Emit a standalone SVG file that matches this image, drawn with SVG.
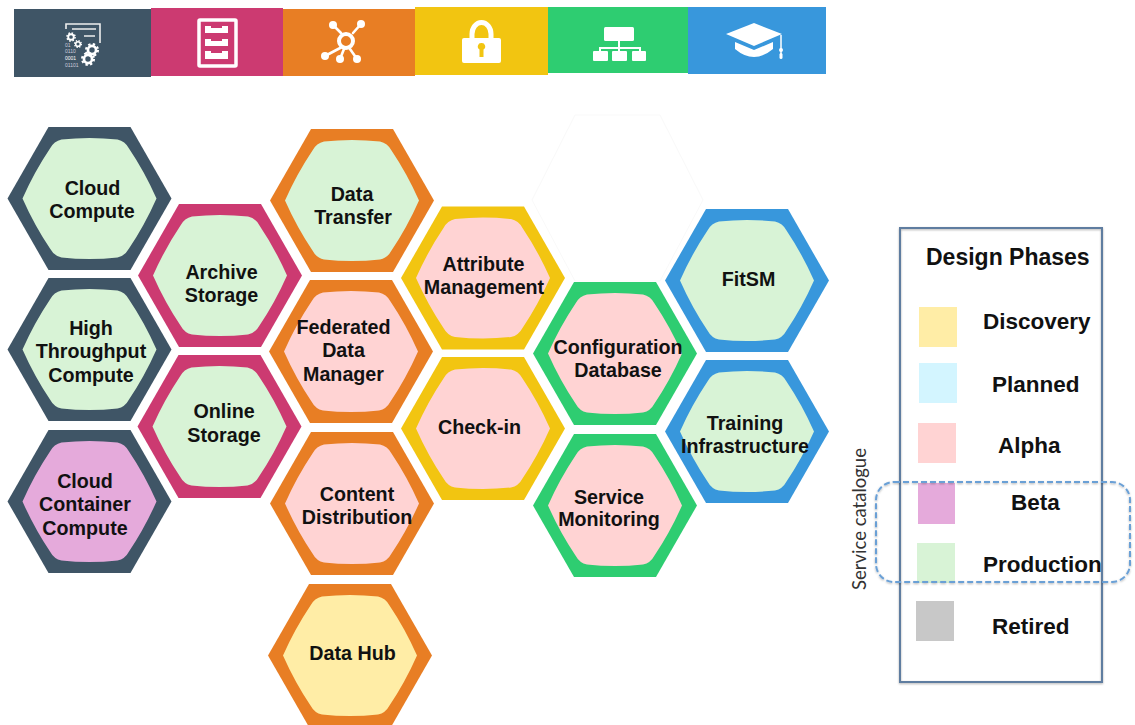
<svg xmlns="http://www.w3.org/2000/svg" xmlns:xlink="http://www.w3.org/1999/xlink" width="1135" height="725" viewBox="0 0 1135 725">
<style>
text{font-family:"Liberation Sans",Arial,sans-serif;font-weight:bold;fill:#111;text-anchor:middle}
.n{font-size:19.7px}
.l{font-size:22.5px;text-anchor:start}
.dark{fill:#3f5566}.pink{fill:#cc3a71}.orange{fill:#e87e24}.yellow{fill:#f2c511}.green{fill:#2ecd71}.blue{fill:#3897dc}
.prod{fill:#d8f3d6}.alpha{fill:#ffd3d3}.beta{fill:#e5aadb}.disc{fill:#ffeda6}
.w{fill:#fff}.ws{fill:none;stroke:#fff;stroke-width:2;stroke-linecap:round;stroke-linejoin:round}
</style>
<defs>
<polygon id="o" points="-82,0 -41,-71.500 41,-71.500 82,0 41,71.500 -41,71.500"/>
<path id="i" d="M-67,0Q-55,-27 -39.500,-50Q-35.500,-57.500 -28,-59Q0,-62 28,-59Q35.500,-57.500 39.500,-50Q55,-27 67,0Q55,27 39.500,50Q35.500,57.500 28,59Q0,62 -28,59Q-35.500,57.500 -39.500,50Q-55,27 -67,0Z"/>
<filter id="sh" x="-5%" y="-5%" width="110%" height="110%"><feDropShadow dx="0" dy="1" stdDeviation="1.2" flood-color="#000" flood-opacity=".3"/></filter>
<g id="gear"><circle r="4.500" fill="none" stroke="#fff" stroke-width="3"/><circle r="6.600" fill="none" stroke="#fff" stroke-width="2.400" stroke-dasharray="2.600 2.600"/></g>
</defs>

<g id="toolbar">
<g id="tool-service"><rect class="dark" x="14" y="9" width="137" height="68"/>
<path d="M66,29V24H100V43M72,29H96M84,36H95" fill="none" stroke="#eee" stroke-width="1.600"/>
<use xlink:href="#gear" transform="translate(71,37) scale(.62)"/><use xlink:href="#gear" transform="translate(78,44) scale(.52)"/>
<use xlink:href="#gear" transform="translate(92,50) scale(.9)"/><use xlink:href="#gear" transform="translate(88,59) scale(.9)"/>
<text x="65" y="47" style="font-size:5px;font-weight:normal;fill:#ccd;text-anchor:start">01</text>
<text x="65" y="53" style="font-size:5px;font-weight:normal;fill:#ccd;text-anchor:start">0110</text>
<text x="65" y="60" style="font-size:5px;font-weight:normal;fill:#fff;text-anchor:start">0001</text>
<text x="65" y="67" style="font-size:5px;font-weight:normal;fill:#ccd;text-anchor:start">01101</text></g>
<g id="tool-storage"><rect class="pink" x="151" y="8" width="132" height="68"/>
<rect x="199" y="20" width="37" height="46" fill="none" stroke="#fff" stroke-width="3.500" rx="1"/>
<path class="w" d="M205,26H228V33H205ZM205,39H228V46H205ZM205,51H228V59H205Z"/>
<path class="pink" d="M211,26H222V28H211ZM211,39H222V41H211ZM211,51H222V53H211Z"/></g>
<g id="tool-data"><rect class="orange" x="283" y="9" width="132" height="67"/>
<path class="ws" style="stroke-width:2.600" d="M333,25L341,33M361,24L353,33M342,47L325,56M344,49L340,59M350,49L357,59"/>
<circle cx="346" cy="41" r="7" fill="none" stroke="#fff" stroke-width="4"/>
<g class="w"><circle cx="333" cy="25" r="4"/><circle cx="361" cy="24" r="4"/><circle cx="325" cy="56" r="4"/><circle cx="340" cy="59" r="4"/><circle cx="357" cy="59" r="4"/></g></g>
<g id="tool-aai"><rect class="yellow" x="415" y="7" width="133" height="68"/>
<path d="M472,38V34A9.500,11.500 0 0 1 491,34V38" fill="none" stroke="#fff" stroke-width="5"/>
<rect class="w" x="462" y="38" width="39" height="25" rx="2"/>
<path class="yellow" d="M481.500,43a3.500,3.500 0 0 1 2,6.500V57H479.500V49.500a3.500,3.500 0 0 1 2,-6.500Z"/></g>
<g id="tool-org"><rect class="green" x="548" y="7" width="140" height="66"/>
<rect class="w" x="604" y="27" width="30" height="14" rx="1.500"/>
<path d="M619,41V48M600,53V48H640V53M619,48V53" fill="none" stroke="#fff" stroke-width="2"/>
<rect class="w" x="593" y="51" width="15" height="10" rx="1"/><rect class="w" x="612" y="51" width="15" height="10" rx="1"/><rect class="w" x="632" y="51" width="14" height="10" rx="1"/></g>
<g id="tool-training"><rect class="blue" x="688" y="7" width="138" height="67"/>
<path class="w" d="M726,34L754,23L782,34L754,46Z"/>
<path class="w" d="M735,42V49Q754,65 773,49V42L754,50Z"/>
<path d="M781,35V57" stroke="#fff" stroke-width="1.500"/><circle class="w" cx="781" cy="50" r="2"/><rect class="w" x="779.500" y="53" width="3" height="6" rx="1.500"/></g>
</g>

<g id="connectors"></g>

<g id="hex-blank"><polygon points="532,200 575,115 660,115 703,200 660,281 575,281" fill="#fff" stroke="#f9f9f9" stroke-width="1"/></g>

<g id="cloud-compute" transform="translate(89.500,198.500)"><use xlink:href="#o" class="dark"/><use xlink:href="#i" class="prod"/>
<text class="n" x="3" y="-3.500">Cloud</text><text class="n" x="2.500" y="19">Compute</text></g>
<g id="high-throughput-compute" transform="translate(89.500,349.500)"><use xlink:href="#o" class="dark"/><use xlink:href="#i" class="prod"/>
<text class="n" x="1.500" y="-14.500">High</text><text class="n" x="1.500" y="8.500">Throughput</text><text class="n" x="1.500" y="32.500">Compute</text></g>
<g id="cloud-container-compute" transform="translate(89.500,501.500)"><use xlink:href="#o" class="dark"/><use xlink:href="#i" class="beta"/>
<text class="n" x="-4.500" y="-14">Cloud</text><text class="n" x="-4.500" y="9.500">Container</text><text class="n" x="-4.500" y="33.500">Compute</text></g>
<g id="archive-storage" transform="translate(220,275.500)"><use xlink:href="#o" class="pink"/><use xlink:href="#i" class="prod"/>
<text class="n" x="1.500" y="3">Archive</text><text class="n" x="1.500" y="26">Storage</text></g>
<g id="online-storage" transform="translate(219.500,426.500)"><use xlink:href="#o" class="pink"/><use xlink:href="#i" class="prod"/>
<text class="n" x="4.500" y="-8.500">Online</text><text class="n" x="4.500" y="15">Storage</text></g>
<g id="data-transfer" transform="translate(352,200.500)"><use xlink:href="#o" class="orange"/><use xlink:href="#i" class="prod"/>
<text class="n" x="0" y="0">Data</text><text class="n" x="1" y="23">Transfer</text></g>
<g id="federated-data-manager" transform="translate(351,351.500)"><use xlink:href="#o" class="orange"/><use xlink:href="#i" class="alpha"/>
<text class="n" x="-7.500" y="-18">Federated</text><text class="n" x="-7.500" y="5.500">Data</text><text class="n" x="-7.500" y="29">Manager</text></g>
<g id="content-distribution" transform="translate(352,503.500)"><use xlink:href="#o" class="orange"/><use xlink:href="#i" class="alpha"/>
<text class="n" x="5" y="-3">Content</text><text class="n" x="5" y="20.500">Distribution</text></g>
<g id="data-hub" transform="translate(350,655.500)"><use xlink:href="#o" class="orange"/><use xlink:href="#i" class="disc"/>
<text class="n" x="2.500" y="4.500">Data Hub</text></g>
<g id="attribute-management" transform="translate(483,278)"><use xlink:href="#o" class="yellow"/><use xlink:href="#i" class="alpha"/>
<text class="n" x="0.500" y="-7">Attribute</text><text class="n" x="1" y="15.500">Management</text></g>
<g id="check-in" transform="translate(483,428.500)"><use xlink:href="#o" class="yellow"/><use xlink:href="#i" class="alpha"/>
<text class="n" x="-3.500" y="5">Check-in</text></g>
<g id="configuration-database" transform="translate(615,353.500)"><use xlink:href="#o" class="green"/><use xlink:href="#i" class="alpha"/>
<text class="n" x="3" y="0.500">Configuration</text><text class="n" x="3" y="23">Database</text></g>
<g id="service-monitoring" transform="translate(615,505.500)"><use xlink:href="#o" class="green"/><use xlink:href="#i" class="alpha"/>
<text class="n" x="-6" y="-2">Service</text><text class="n" x="-6" y="20.500">Monitoring</text></g>
<g id="fitsm" transform="translate(747,280.500)"><use xlink:href="#o" class="blue"/><use xlink:href="#i" class="prod"/>
<text class="n" x="1.500" y="5.500">FitSM</text></g>
<g id="training-infrastructure" transform="translate(747,431.500)"><use xlink:href="#o" class="blue"/><use xlink:href="#i" class="prod"/>
<text class="n" x="-2" y="-1.500">Training</text><text class="n" x="-2" y="21">Infrastructure</text></g>

<g id="legend">
<rect x="900" y="228" width="202" height="454" fill="none" stroke="#5f7da0" stroke-width="2" filter="url(#sh)"/>
<text class="l" x="926" y="265" style="font-size:23px">Design Phases</text>
<rect x="919" y="307" width="38" height="40" fill="#ffeda6"/><text class="l" x="983" y="329">Discovery</text>
<rect x="919" y="363" width="38" height="40" fill="#d3f5ff"/><text class="l" x="992" y="392">Planned</text>
<rect x="918" y="423" width="38" height="40" fill="#ffd3d3"/><text class="l" x="998" y="453">Alpha</text>
<rect x="918" y="483" width="37" height="41" fill="#e5aadb"/><text class="l" x="1011" y="510">Beta</text>
<rect x="917" y="543" width="38" height="40" fill="#d8f3d6"/><text class="l" x="983" y="572">Production</text>
<rect x="916" y="601" width="38" height="40" fill="#c8c8c8"/><text class="l" x="992" y="634">Retired</text>
<rect x="876" y="482" width="254" height="100" rx="18" fill="none" stroke="#6aa0d6" stroke-width="2" stroke-dasharray="6 3" filter="url(#sh)"/>
<text transform="translate(866,519) rotate(-90)" style="font-family:Lato,'Open Sans',sans-serif;font-weight:normal;font-size:18.500px;fill:#333">Service catalogue</text>
</g>
</svg>
